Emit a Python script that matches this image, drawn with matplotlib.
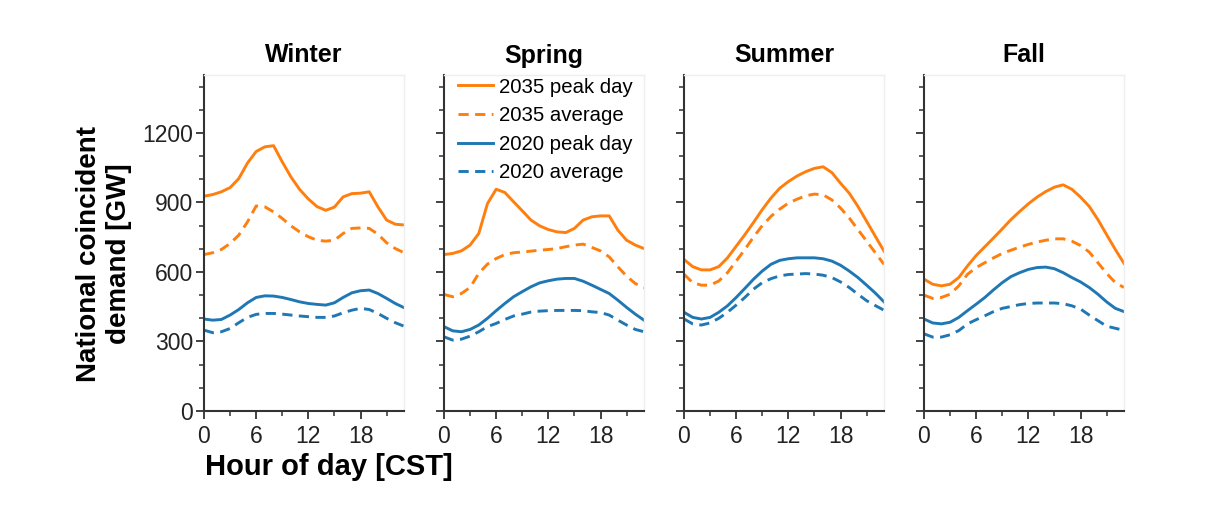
import numpy as np
import matplotlib.pyplot as plt
from matplotlib.ticker import MultipleLocator

plt.rcParams['font.family'] = ['Liberation Sans', 'DejaVu Sans']

hours = np.arange(24)
seasons = ['Winter', 'Spring', 'Summer', 'Fall']

# GW
peak_2035 = {
    'Winter': [927, 934, 946, 964, 1003, 1070, 1120, 1140, 1145, 1075, 1010, 956,
               915, 882, 866, 880, 924, 938, 940, 946, 881, 824, 806, 803],
    'Spring': [675, 680, 691, 716, 766, 895, 957, 943, 903, 864, 824, 799,
               783, 773, 770, 788, 824, 838, 842, 842, 780, 737, 716, 701],
    'Summer': [654, 623, 609, 609, 623, 661, 711, 761, 814, 869, 919, 961,
               990, 1014, 1033, 1047, 1054, 1029, 983, 940, 883, 819, 754, 690],
    'Fall': [569, 547, 540, 547, 576, 626, 671, 709, 747, 786, 826, 861,
             894, 923, 947, 966, 976, 957, 923, 883, 826, 761, 697, 637],
}
avg_2035 = {
    'Winter': [675, 683, 697, 723, 759, 816, 885, 881, 859, 831, 799, 773,
               752, 737, 733, 737, 766, 788, 790, 788, 763, 726, 701, 683],
    'Spring': [503, 493, 507, 533, 594, 634, 658, 675, 683, 686, 690, 694,
               697, 701, 709, 716, 720, 706, 691, 665, 622, 582, 550, 532],
    'Summer': [590, 554, 543, 543, 561, 597, 647, 697, 751, 800, 840, 871,
               897, 914, 929, 936, 933, 911, 876, 833, 783, 733, 683, 633],
    'Fall': [500, 486, 490, 504, 540, 590, 619, 640, 661, 680, 694, 707,
             719, 729, 737, 743, 743, 733, 714, 686, 640, 594, 554, 533],
}
peak_2020 = {
    'Winter': [397, 392, 395, 414, 438, 467, 490, 497, 496, 490, 481, 471,
               464, 460, 457, 467, 490, 510, 519, 522, 507, 486, 464, 446],
    'Spring': [364, 346, 342, 352, 371, 400, 433, 464, 493, 515, 536, 553,
               562, 569, 572, 572, 560, 543, 525, 507, 478, 447, 418, 392],
    'Summer': [426, 404, 397, 404, 426, 454, 490, 529, 569, 604, 633, 650,
               657, 661, 661, 661, 657, 647, 629, 604, 576, 543, 509, 471],
    'Fall': [397, 380, 376, 383, 404, 433, 461, 490, 523, 554, 580, 597,
             611, 619, 621, 614, 597, 576, 557, 533, 504, 471, 443, 429],
}
avg_2020 = {
    'Winter': [349, 338, 342, 356, 381, 404, 417, 421, 421, 418, 414, 410,
               407, 404, 404, 410, 424, 435, 443, 438, 421, 400, 381, 366],
    'Spring': [320, 306, 310, 323, 342, 364, 378, 395, 410, 418, 427, 431,
               433, 434, 434, 434, 433, 428, 425, 414, 392, 371, 352, 342],
    'Summer': [397, 376, 371, 380, 400, 426, 457, 490, 526, 554, 571, 583,
               589, 591, 593, 591, 586, 576, 557, 533, 504, 476, 455, 435],
    'Fall': [333, 319, 319, 329, 347, 376, 394, 411, 429, 443, 451, 459,
             464, 466, 466, 466, 463, 454, 440, 414, 390, 366, 357, 348],
}

orange = '#ff7f0e'
blue = '#1f77b4'

fig = plt.figure(figsize=(12.31, 5.24), dpi=100)
W, H = 1231, 524
lefts = [204, 444, 684, 924]
axes = []
for i, s in enumerate(seasons):
    ax = fig.add_axes([lefts[i] / W, (H - 411) / H, 200 / W, 336 / H])
    ax.plot(hours, peak_2035[s], color=orange, lw=2.1, label='2035 peak day')
    ax.plot(hours, avg_2035[s], color=orange, lw=2.1, ls=(0, (3.5, 2.2)), label='2035 average')
    ax.plot(hours, peak_2020[s], color=blue, lw=2.1, label='2020 peak day')
    ax.plot(hours, avg_2020[s], color=blue, lw=2.1, ls=(0, (3.5, 2.2)), label='2020 average')
    ax.set_xlim(0, 23)
    ax.set_ylim(0, 1450)
    ax.xaxis.set_major_locator(MultipleLocator(6))
    ax.xaxis.set_minor_locator(MultipleLocator(3))
    ax.yaxis.set_major_locator(MultipleLocator(300))
    ax.yaxis.set_minor_locator(MultipleLocator(100))
    ax.tick_params(which='major', direction='out', length=6, width=1.3, labelsize=16.5,
                   color='#333333', labelcolor='#222222', pad=2)
    ax.tick_params(axis='x', which='major', pad=4)
    ax.tick_params(which='minor', direction='out', length=3.5, width=1.1, color='#333333')
    for side in ['left', 'bottom']:
        ax.spines[side].set_linewidth(1.5)
        ax.spines[side].set_color('#333333')
    for side in ['top', 'right']:
        ax.spines[side].set_color('#eeeeee')
        ax.spines[side].set_linewidth(1)
    if i > 0:
        ax.tick_params(axis='y', labelleft=False)
    ax.set_title(s, fontsize=18, fontweight='bold', pad=9)
    axes.append(ax)

axes[0].set_ylabel('National coincident\ndemand [GW]', fontsize=20, fontweight='bold',
                   linespacing=1.2)
axes[0].yaxis.set_label_coords(-0.36, 0.467)
fig.text(205 / W, 1 - 467 / H, 'Hour of day [CST]', fontsize=21, fontweight='bold',
         ha='left', va='center')

axes[1].legend(loc='upper left', bbox_to_anchor=(0.0, 1.035), frameon=False, fontsize=14.7,
               handlelength=1.7, handletextpad=0.3, labelspacing=0.47, borderaxespad=0.3)

fig.savefig('out.png', dpi=100)
